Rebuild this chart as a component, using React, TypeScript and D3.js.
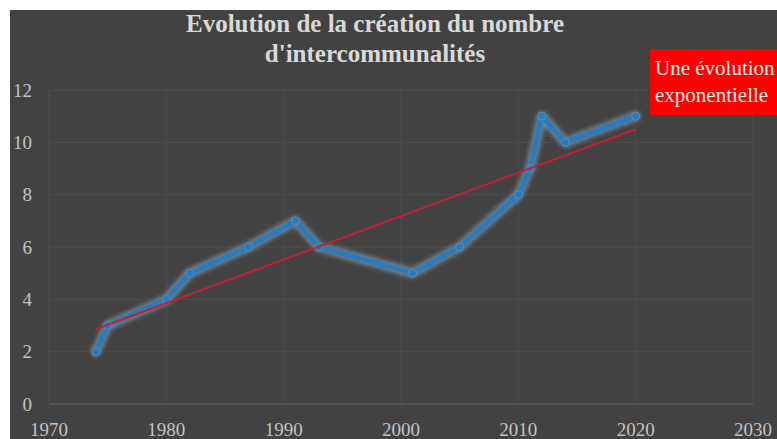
import React from 'react';
import * as d3 from 'd3';

// data
const years = [1974, 1975, 1980, 1982, 1987, 1991, 1993, 2001, 2005, 2010, 2011, 2012, 2014, 2020];
const counts = [2, 3, 4, 5, 6, 7, 6, 5, 6, 8, 9, 11, 10, 11];
const trendYears = [1974, 2020];
const trendValues = [2.86, 10.5];
const xTicks = [1970, 1980, 1990, 2000, 2010, 2020, 2030];
const yTicks = [0, 2, 4, 6, 8, 10, 12];
const titleLines = ['Evolution de la création du nombre', "d'intercommunalités"];
const noteLines = ['Une évolution', 'exponentielle'];

const W = 777;
const H = 439;
const font = '"Liberation Serif", "Times New Roman", serif';

const App: React.FC = () => {
  const x = d3.scaleLinear().domain([1970, 2030]).range([49, 753]);
  const y = d3.scaleLinear().domain([0, 12]).range([404, 90]);

  const points = years.map((yr, i) => ({ yr, v: counts[i] }));
  const line = d3.line<{ yr: number; v: number }>()
    .x(d => x(d.yr))
    .y(d => y(d.v));
  const path = line(points) || '';
  const trend = line(trendYears.map((yr, i) => ({ yr, v: trendValues[i] }))) || '';

  return (
    <svg width={W} height={H} style={{ position: 'fixed', left: 0, top: 0 }}>
      <defs>
        <filter id="glow" x="-10%" y="-10%" width="120%" height="120%">
          <feGaussianBlur stdDeviation="2" />
        </filter>
      </defs>
      <rect x={0} y={0} width={W} height={H} fill="#ffffff" />
      <rect x={10} y={10} width={W - 10} height={H - 10} fill="#424242" />

      {/* title */}
      {titleLines.map((t, i) => (
        <text key={t} x={375} y={32 + i * 30} textAnchor="middle" fill="#d9d9d9"
          fontFamily={font} fontWeight="bold" fontSize={25}>{t}</text>
      ))}

      {/* grid */}
      {yTicks.filter(t => t > 0).map(t => (
        <line key={'h' + t} x1={x(1970)} x2={x(2030)} y1={y(t)} y2={y(t)} stroke="#4d4d4d" strokeWidth={1} />
      ))}
      {xTicks.map(t => (
        <line key={'v' + t} x1={x(t)} x2={x(t)} y1={y(12)} y2={y(0)} stroke="#4d4d4d" strokeWidth={1} />
      ))}
      <line x1={x(1970)} x2={x(2030)} y1={y(0)} y2={y(0)} stroke="#5c5c5c" strokeWidth={1.5} />

      {/* tick labels */}
      {yTicks.map(t => (
        <text key={'yl' + t} x={32} y={y(t)} dy="0.35em" textAnchor="end" fill="#c4c4c4"
          fontFamily={font} fontSize={19}>{t}</text>
      ))}
      {xTicks.map(t => (
        <text key={'xl' + t} x={x(t)} y={436} textAnchor="middle" fill="#c4c4c4"
          fontFamily={font} fontSize={19}>{t}</text>
      ))}

      {/* series with soft glow */}
      <path d={path} fill="none" stroke="#7f9bb0" strokeOpacity={0.7} strokeWidth={10}
        strokeLinejoin="round" strokeLinecap="round" filter="url(#glow)" />
      <path d={path} fill="none" stroke="#2a7bbd" strokeWidth={5} strokeLinejoin="round" strokeLinecap="round" />
      {points.map(p => (
        <circle key={p.yr} cx={x(p.yr)} cy={y(p.v)} r={4} fill="#2a7bbd" stroke="#5d93bd" strokeWidth={0.8} />
      ))}

      {/* linear trend */}
      <path d={trend} fill="none" stroke="#c42030" strokeWidth={2} />

      {/* annotation */}
      <rect x={650} y={49} width={W - 650} height={66} fill="#ff0000" />
      {noteLines.map((t, i) => (
        <text key={t} x={655} y={75 + i * 27} fill="#f4e8e8" fontFamily={font} fontSize={21}>{t}</text>
      ))}
    </svg>
  );
};

export default App;
